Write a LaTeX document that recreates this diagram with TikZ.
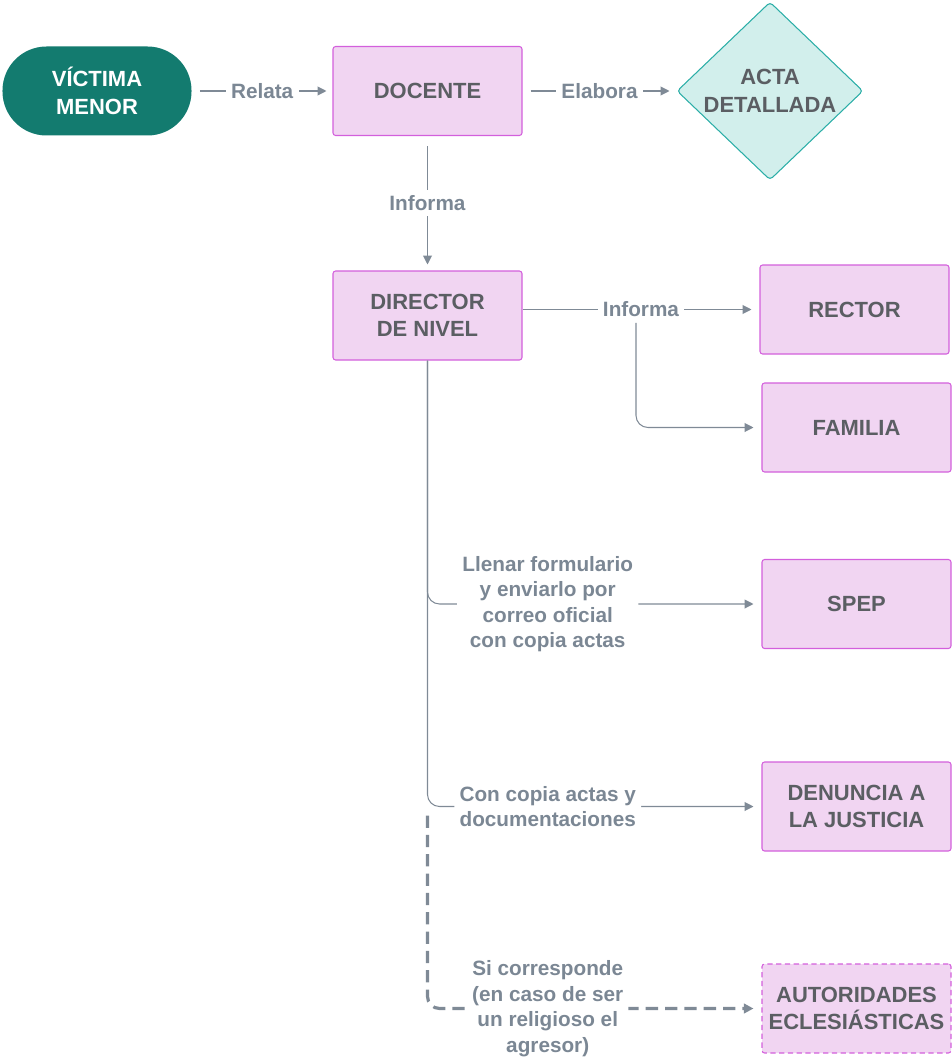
\documentclass[tikz,border=0pt]{standalone}
\usepackage{fontspec}
\setmainfont{Liberation Sans}
\usetikzlibrary{shapes.geometric, arrows.meta, positioning}

\definecolor{pinkfill}{HTML}{F1D5F2}
\definecolor{pinkdraw}{HTML}{D35FDC}
\definecolor{boxtext}{HTML}{5B5E63}
\definecolor{lbltext}{HTML}{7B8794}
\definecolor{linegray}{HTML}{7F8A96}
\definecolor{tealdark}{HTML}{137B6F}
\definecolor{actafill}{HTML}{D2EFEC}
\definecolor{actadraw}{HTML}{2BAEA7}

\tikzstyle{victim} = [rectangle, rounded corners=0.88cm, minimum width=3.78cm, minimum height=1.78cm, align=center, fill=tealdark, text=white, font=\fontsize{12.5}{15.6}\selectfont\bfseries]
\tikzstyle{process} = [rectangle, rounded corners=1.5pt, minimum width=3.78cm, minimum height=1.78cm, align=center, draw=pinkdraw, fill=pinkfill, line width=0.6pt, text=boxtext, font=\fontsize{12.5}{15.6}\selectfont\bfseries]
\tikzstyle{doc} = [diamond, rounded corners=2pt, minimum width=3.72cm, minimum height=3.56cm, inner sep=0pt, align=center, draw=actadraw, fill=actafill, line width=0.6pt, text=boxtext, font=\fontsize{12.5}{15.6}\selectfont\bfseries]
\tikzstyle{arrow} = [draw=linegray, line width=0.6pt, -{Triangle[length=5pt,width=5pt]}]
\tikzstyle{dasharrow} = [draw=linegray, line width=1.8pt, dash pattern=on 7pt off 4pt, -{Triangle[length=5.5pt,width=5.5pt]}]
\tikzstyle{lbl} = [fill=white, inner sep=3pt, align=center, text=lbltext, font=\fontsize{11.8}{14.5}\selectfont\bfseries]

\begin{document}
\begin{tikzpicture}[node distance=2cm]
  \useasboundingbox (-1.94,1.82) rectangle (17.08,-19.34);

  \node (victima) [victim] {VÍCTIMA\\MENOR};
  \node (docente) [process, right of=victima, xshift=4.61cm] {DOCENTE};
  \node (acta) [doc, right of=docente, xshift=4.85cm] {ACTA\\DETALLADA};
  \node (director) [process, below of=docente, yshift=-2.49cm] {DIRECTOR\\DE NIVEL};
  \node (rector) [process, right of=director, xshift=6.54cm, yshift=0.12cm] {RECTOR};
  \node (familia) [process, below of=rector, xshift=0.04cm, yshift=-0.36cm] {FAMILIA};
  \node (spep) [process, below of=familia, yshift=-1.53cm] {SPEP};
  \node (denuncia) [process, below of=spep, yshift=-2.05cm] {DENUNCIA A\\LA JUSTICIA};
  \node (autoridades) [process, dash pattern=on 3pt off 2pt, below of=denuncia, yshift=-2.04cm] {AUTORIDADES\\ECLESIÁSTICAS};

  \draw [arrow, shorten <=0.16cm, shorten >=0.12cm] (victima) -- node[lbl] {Relata} (docente);
  \draw [arrow, shorten <=0.16cm, shorten >=0.14cm] (docente) -- node[lbl] {Elabora} (acta);
  \draw [arrow, shorten <=0.2cm, shorten >=0.12cm] (docente) -- node[lbl] {Informa} (director);
  \draw [arrow, shorten >=0.16cm] (director.east |- rector.west) -- node[lbl] (informa) {Informa} (rector.west);
  \draw [arrow, rounded corners=0.24cm, shorten >=0.16cm] ([xshift=-0.1cm]informa.south) |- (familia.west);

  % ramas del director
  \draw [arrow, rounded corners=0.24cm, shorten >=0.16cm] (director.south) |- node[lbl, pos=0.68] {Llenar formulario\\y enviarlo por\\correo oficial\\con copia actas} (spep.west);
  \draw [arrow, rounded corners=0.24cm, shorten >=0.16cm] (director.south) |- node[lbl, pos=0.68] {Con copia actas y\\documentaciones} (denuncia.west);
  \coordinate (dashtop) at ([yshift=-9.1cm]director.south);
  \draw [dasharrow, rounded corners=0.24cm, shorten >=0.16cm] (dashtop) |- node[lbl, pos=0.68] {Si corresponde\\(en caso de ser\\un religioso el\\agresor)} (autoridades.west);
\end{tikzpicture}
\end{document}
